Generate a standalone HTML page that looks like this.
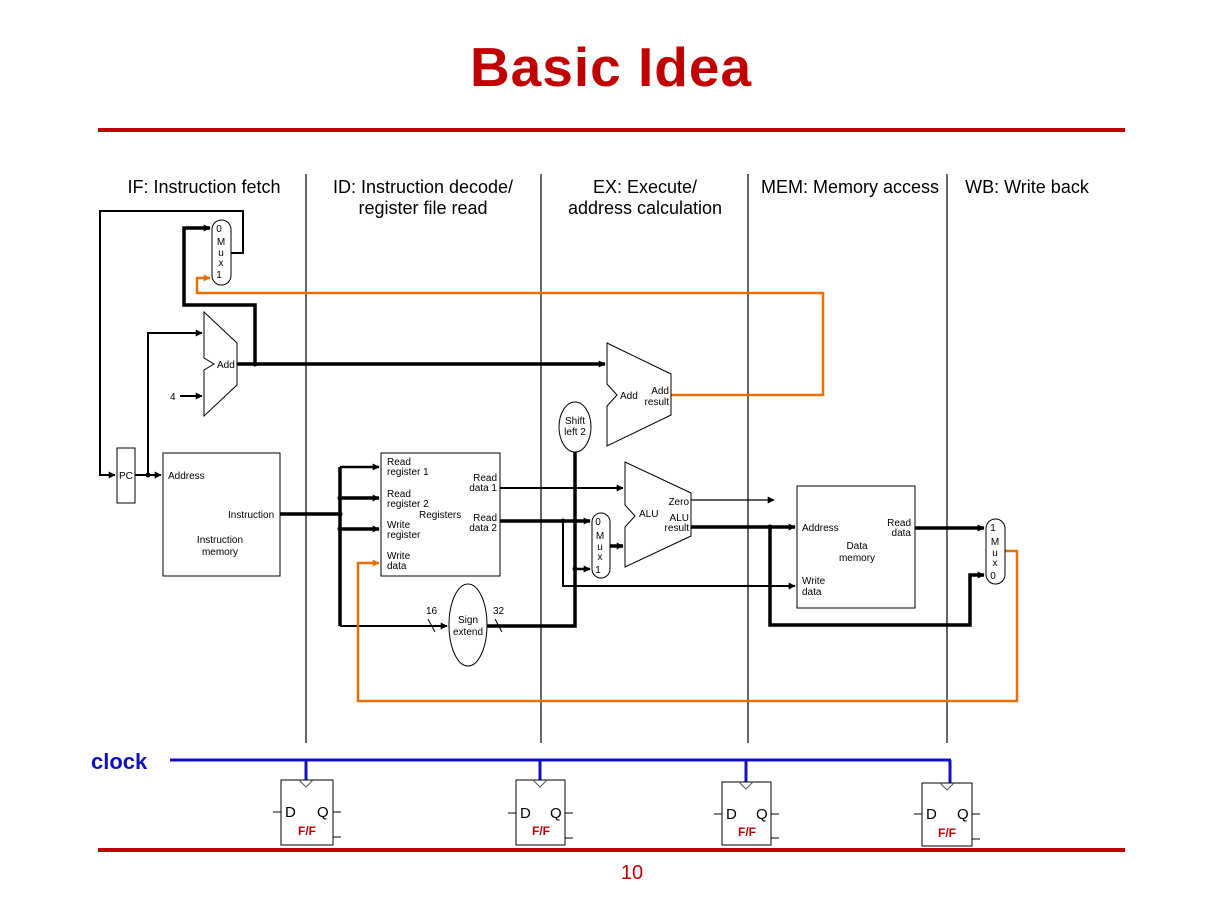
<!DOCTYPE html>
<html><head><meta charset="utf-8"><style>
body{margin:0;background:#fff}
svg{display:block;font-family:"Liberation Sans",Arial,sans-serif}
</style></head><body>
<svg width="1214" height="910" viewBox="0 0 1214 910" xmlns="http://www.w3.org/2000/svg">
<defs>
<marker id="a" viewBox="0 0 10 10" refX="9" refY="5" markerWidth="8" markerHeight="7" markerUnits="userSpaceOnUse" orient="auto"><path d="M0,0 L10,5 L0,10z" fill="#000"/></marker>
<marker id="ao" viewBox="0 0 10 10" refX="9" refY="5" markerWidth="8" markerHeight="7" markerUnits="userSpaceOnUse" orient="auto"><path d="M0,0 L10,5 L0,10z" fill="#e87000"/></marker>
</defs>
<text x="611" y="86" text-anchor="middle" font-size="55" font-weight="bold" letter-spacing="1" fill="#c00000">Basic Idea</text>
<rect x="98" y="128" width="1027" height="4" fill="#c00000"/>
<rect x="98" y="848" width="1027" height="4" fill="#c00000"/>
<text x="632" y="879" text-anchor="middle" font-size="20" fill="#c00000">10</text>

<g font-size="18" fill="#000" text-anchor="middle">
<text x="204" y="193">IF: Instruction fetch</text>
<text x="423" y="193">ID: Instruction decode/</text>
<text x="423" y="214">register file read</text>
<text x="645" y="193">EX: Execute/</text>
<text x="645" y="214">address calculation</text>
<text x="850" y="193">MEM: Memory access</text>
<text x="1027" y="193">WB: Write back</text>
</g>
<g stroke="#000" stroke-width="1.2">
<line x1="306" y1="174" x2="306" y2="743"/><line x1="541" y1="174" x2="541" y2="743"/>
<line x1="748" y1="174" x2="748" y2="743"/><line x1="947" y1="174" x2="947" y2="743"/>
</g>

<g fill="none" stroke="#000" stroke-width="2">
<polyline points="231,253 243,253 243,211 100,211 100,475 115,475" marker-end="url(#a)"/>
<polyline points="148,475 148,333 202,333" marker-end="url(#a)"/>
<line x1="180" y1="396" x2="202" y2="396" marker-end="url(#a)"/>
<line x1="135" y1="475" x2="161" y2="475" marker-end="url(#a)"/>
<line x1="500" y1="488" x2="623" y2="488" marker-end="url(#a)"/>
<polyline points="563,521 563,586 795,586" marker-end="url(#a)"/>
<line x1="691" y1="500" x2="774" y2="500" stroke-width="1.2" marker-end="url(#a)"/>
</g>
<g fill="none" stroke="#000" stroke-width="3.5">
<polyline points="255,364 255,305 184,305 184,228 210,228" marker-end="url(#a)"/>
<line x1="237" y1="364" x2="605" y2="364" marker-end="url(#a)"/>
<line x1="280" y1="514" x2="340" y2="514"/>
<line x1="340" y1="467" x2="340" y2="626"/>
<line x1="340" y1="467" x2="379" y2="467" stroke-width="2.5" marker-end="url(#a)"/>
<line x1="340" y1="498" x2="379" y2="498" marker-end="url(#a)"/>
<line x1="340" y1="529" x2="379" y2="529" marker-end="url(#a)"/>
<line x1="340" y1="626" x2="447" y2="626" stroke-width="2" marker-end="url(#a)"/>
<line x1="500" y1="521" x2="590" y2="521" marker-end="url(#a)"/>
<polyline points="487,626 575,626 575,452"/>
<line x1="575" y1="569" x2="590" y2="569" stroke-width="2.5" marker-end="url(#a)"/>
<line x1="610" y1="546" x2="623" y2="546" marker-end="url(#a)"/>
<line x1="691" y1="527" x2="795" y2="527" marker-end="url(#a)"/>
<polyline points="770,527 770,625 970,625 970,575 984,575" marker-end="url(#a)"/>
<line x1="915" y1="528" x2="984" y2="528" marker-end="url(#a)"/>
</g>
<g fill="#000"><circle cx="255" cy="364" r="2.5"/><circle cx="148" cy="475" r="2.5"/><circle cx="340" cy="498" r="2.5"/><circle cx="340" cy="514" r="2.5"/><circle cx="340" cy="529" r="2.5"/><circle cx="563" cy="521" r="2.5"/><circle cx="575" cy="569" r="2.5"/><circle cx="770" cy="527" r="2.5"/></g>
<g fill="none" stroke="#e87000" stroke-width="2.5">
<polyline points="671,395 823,395 823,293 197,293 197,278 210,278" marker-end="url(#ao)"/>
<polyline points="1005,551 1017,551 1017,701 358,701 358,563 379,563" marker-end="url(#ao)"/>
</g>
<g stroke="#000" stroke-width="1"><line x1="428" y1="619" x2="435" y2="632"/><line x1="495" y1="619" x2="502" y2="632"/></g>

<g fill="#fff" stroke="#000" stroke-width="1">
<rect x="212" y="220" width="19" height="65" rx="9.5"/>
<polygon points="204,312 237,343 237,385 204,416 204,370 214,364 204,358"/>
<rect x="117" y="448" width="18" height="55"/>
<rect x="163" y="453" width="117" height="123"/>
<rect x="381" y="453" width="119" height="123"/>
<ellipse cx="468" cy="625" rx="19" ry="41"/>
<ellipse cx="575" cy="427" rx="16" ry="25"/>
<polygon points="607,343 671,374 671,415 607,446 607,406 617,395 607,384"/>
<rect x="592" y="513" width="18" height="65" rx="9"/>
<polygon points="625,462 691,493 691,536 625,567 625,527 635,516 625,505"/>
<rect x="797" y="486" width="118" height="122"/>
<rect x="986" y="519" width="19" height="65" rx="9.5"/>
</g>
<g font-size="10" fill="#000">
<g text-anchor="middle"><text x="219" y="232">0</text><text x="221" y="245">M</text><text x="221" y="256">u</text><text x="221" y="266">x</text><text x="219" y="278">1</text></g>
<text x="217" y="368">Add</text><text x="170" y="400">4</text>
<text x="119" y="479">PC</text>
<text x="168" y="479">Address</text><text x="228" y="518">Instruction</text>
<text x="220" y="543" text-anchor="middle">Instruction</text><text x="220" y="555" text-anchor="middle">memory</text>
<text x="387" y="465">Read</text><text x="387" y="475">register 1</text>
<text x="387" y="497">Read</text><text x="387" y="507">register 2</text>
<text x="419" y="518">Registers</text>
<text x="387" y="528">Write</text><text x="387" y="538">register</text>
<text x="387" y="559">Write</text><text x="387" y="569">data</text>
<text x="497" y="481" text-anchor="end">Read</text><text x="497" y="491" text-anchor="end">data 1</text>
<text x="497" y="521" text-anchor="end">Read</text><text x="497" y="531" text-anchor="end">data 2</text>
<text x="468" y="623" text-anchor="middle">Sign</text><text x="468" y="635" text-anchor="middle">extend</text>
<text x="426" y="614">16</text><text x="493" y="614">32</text>
<text x="575" y="424" text-anchor="middle">Shift</text><text x="575" y="435" text-anchor="middle">left 2</text>
<text x="620" y="399">Add</text><text x="669" y="394" text-anchor="end">Add</text><text x="669" y="405" text-anchor="end">result</text>
<g text-anchor="middle"><text x="598" y="525">0</text><text x="600" y="539">M</text><text x="600" y="550">u</text><text x="600" y="560">x</text><text x="598" y="573">1</text></g>
<text x="639" y="517">ALU</text><text x="689" y="505" text-anchor="end">Zero</text>
<text x="689" y="521" text-anchor="end">ALU</text><text x="689" y="531" text-anchor="end">result</text>
<text x="802" y="531">Address</text>
<text x="857" y="549" text-anchor="middle">Data</text><text x="857" y="561" text-anchor="middle">memory</text>
<text x="911" y="526" text-anchor="end">Read</text><text x="911" y="536" text-anchor="end">data</text>
<text x="802" y="584">Write</text><text x="802" y="595">data</text>
<g text-anchor="middle"><text x="993" y="531">1</text><text x="995" y="545">M</text><text x="995" y="556">u</text><text x="995" y="566">x</text><text x="993" y="579">0</text></g>
</g>

<text x="91" y="769" font-size="22" font-weight="bold" fill="#1010c0">clock</text>
<g stroke="#1010c0" stroke-width="3" fill="none">
<line x1="170" y1="760" x2="951" y2="760"/>
<line x1="306" y1="760" x2="306" y2="780"/><line x1="540" y1="760" x2="540" y2="780"/>
<line x1="746" y1="760" x2="746" y2="782"/><line x1="950" y1="760" x2="950" y2="783"/>
</g>
<g font-size="15">
<g transform="translate(281,780)">
<rect width="52" height="65" fill="#fff" stroke="#000"/><polyline points="18,0 25,7 32,0" fill="none" stroke="#555"/>
<line x1="-8" y1="32" x2="0" y2="32" stroke="#000"/><line x1="52" y1="32" x2="60" y2="32" stroke="#000"/><line x1="52" y1="57" x2="60" y2="57" stroke="#000"/>
<text x="4" y="37">D</text><text x="36" y="37">Q</text><text x="26" y="55" text-anchor="middle" font-size="12" font-weight="bold" fill="#c00000">F/F</text></g>
<g transform="translate(516,780)">
<rect width="49" height="65" fill="#fff" stroke="#000"/><polyline points="17,0 24,7 31,0" fill="none" stroke="#555"/>
<line x1="-8" y1="33" x2="0" y2="33" stroke="#000"/><line x1="49" y1="33" x2="57" y2="33" stroke="#000"/><line x1="49" y1="58" x2="57" y2="58" stroke="#000"/>
<text x="4" y="38">D</text><text x="34" y="38">Q</text><text x="25" y="55" text-anchor="middle" font-size="12" font-weight="bold" fill="#c00000">F/F</text></g>
<g transform="translate(722,782)">
<rect width="49" height="63" fill="#fff" stroke="#000"/><polyline points="17,0 24,7 31,0" fill="none" stroke="#555"/>
<line x1="-8" y1="32" x2="0" y2="32" stroke="#000"/><line x1="49" y1="32" x2="57" y2="32" stroke="#000"/><line x1="49" y1="56" x2="57" y2="56" stroke="#000"/>
<text x="4" y="37">D</text><text x="34" y="37">Q</text><text x="25" y="54" text-anchor="middle" font-size="12" font-weight="bold" fill="#c00000">F/F</text></g>
<g transform="translate(922,783)">
<rect width="50" height="63" fill="#fff" stroke="#000"/><polyline points="18,0 25,7 32,0" fill="none" stroke="#555"/>
<line x1="-8" y1="31" x2="0" y2="31" stroke="#000"/><line x1="50" y1="31" x2="58" y2="31" stroke="#000"/><line x1="50" y1="56" x2="58" y2="56" stroke="#000"/>
<text x="4" y="36">D</text><text x="35" y="36">Q</text><text x="25" y="54" text-anchor="middle" font-size="12" font-weight="bold" fill="#c00000">F/F</text></g>
</g>
</svg>
</body></html>
